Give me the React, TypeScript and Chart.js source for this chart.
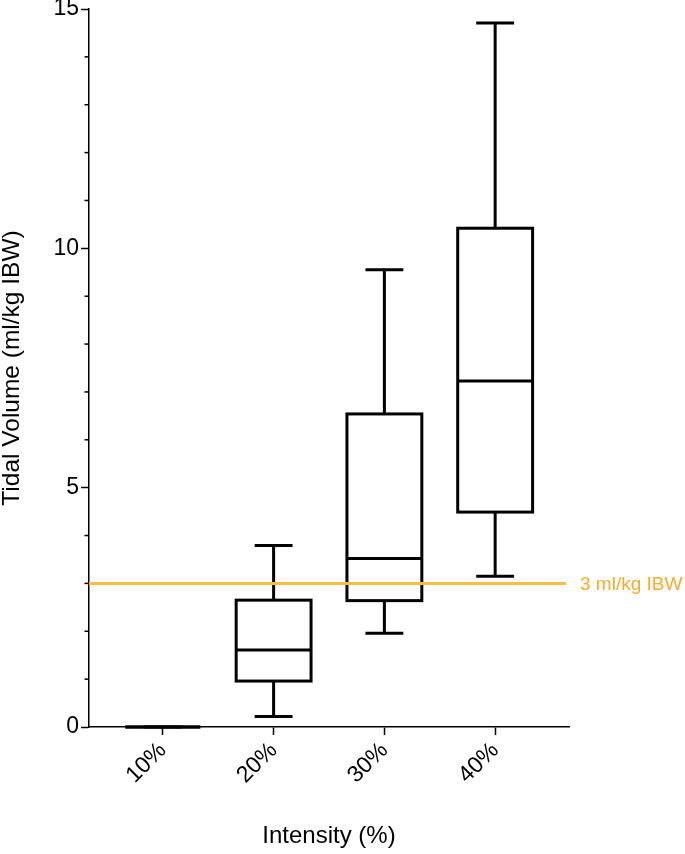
import React, { useEffect, useRef } from 'react';
import { Chart, registerables } from 'chart.js';

Chart.register(...registerables);

const categories = ['10%', '20%', '30%', '40%'];
const whiskerMin = [0, 0.22, 1.96, 3.15];
const quartile1 = [0, 0.96, 2.64, 4.49];
const medians = [0, 1.61, 3.52, 7.23];
const quartile3 = [0, 2.65, 6.54, 10.42];
const whiskerMax = [0, 3.79, 9.55, 14.71];
const yMajorTicks = [0, 5, 10, 15];
const yMinorTicks = [1, 2, 3, 4, 6, 7, 8, 9, 11, 12, 13, 14];
const thresholdValue = 3;
const thresholdLabel = '3 ml/kg IBW';
const xTitle = 'Intensity (%)';
const yTitle = 'Tidal Volume (ml/kg IBW)';

const FONT = "'Liberation Sans', Arial, sans-serif";
const BOX_HALF = 0.338;
const CAP_HALF = 0.171;
const LINE_COLOR = '#F9BC45';
const LABEL_COLOR = '#F6AC30';

const boxPlotPlugin = {
  id: 'boxPlot',
  afterDatasetsDraw(chart: any) {
    const { ctx, chartArea } = chart;
    const xs = chart.scales.x;
    const ys = chart.scales.y;
    ctx.save();
    // minor y ticks
    ctx.strokeStyle = '#000';
    ctx.lineWidth = 1.5;
    yMinorTicks.forEach((v) => {
      const py = ys.getPixelForValue(v);
      ctx.beginPath();
      ctx.moveTo(chartArea.left - 4.5, py);
      ctx.lineTo(chartArea.left, py);
      ctx.stroke();
    });
    // boxes
    ctx.lineWidth = 3;
    ctx.lineCap = 'butt';
    ctx.lineJoin = 'miter';
    categories.forEach((_, i) => {
      const cx = xs.getPixelForValue(i + 1);
      const half = xs.getPixelForValue(i + 1 + BOX_HALF) - cx;
      const cap = xs.getPixelForValue(i + 1 + CAP_HALF) - cx;
      const yMin = ys.getPixelForValue(whiskerMin[i]);
      const yQ1 = ys.getPixelForValue(quartile1[i]);
      const yMed = ys.getPixelForValue(medians[i]);
      const yQ3 = ys.getPixelForValue(quartile3[i]);
      const yMax = ys.getPixelForValue(whiskerMax[i]);
      ctx.beginPath();
      ctx.moveTo(cx, yQ3);
      ctx.lineTo(cx, yMax);
      ctx.moveTo(cx - cap, yMax);
      ctx.lineTo(cx + cap, yMax);
      ctx.moveTo(cx, yQ1);
      ctx.lineTo(cx, yMin);
      ctx.moveTo(cx - cap, yMin);
      ctx.lineTo(cx + cap, yMin);
      ctx.stroke();
      ctx.strokeRect(cx - half, yQ3, half * 2, yQ1 - yQ3);
      ctx.beginPath();
      ctx.moveTo(cx - half, yMed);
      ctx.lineTo(cx + half, yMed);
      ctx.stroke();
    });
    // threshold line
    const ty = ys.getPixelForValue(thresholdValue);
    ctx.strokeStyle = LINE_COLOR;
    ctx.lineWidth = 3;
    ctx.beginPath();
    ctx.moveTo(chartArea.left, ty);
    ctx.lineTo(chartArea.right - 3, ty);
    ctx.stroke();
    ctx.fillStyle = LABEL_COLOR;
    ctx.font = `19px ${FONT}`;
    ctx.textAlign = 'left';
    ctx.textBaseline = 'middle';
    ctx.fillText(thresholdLabel, chartArea.right + 11, ty + 1);
    ctx.restore();
  },
};

export default function App() {
  const canvasRef = useRef<HTMLCanvasElement | null>(null);

  useEffect(() => {
    if (!canvasRef.current) return;
    const chart = new Chart(canvasRef.current, {
      type: 'scatter',
      data: {
        datasets: [
          {
            label: 'Median',
            data: medians.map((m, i) => ({ x: i + 1, y: m })),
            pointRadius: 0,
            pointHoverRadius: 0,
            showLine: false,
          },
        ],
      },
      options: {
        responsive: false,
        animation: false,
        devicePixelRatio: 1,
        layout: { padding: { top: 9, right: 116, left: 0, bottom: 0 } },
        plugins: {
          legend: { display: false },
          tooltip: { enabled: false },
        },
        scales: {
          x: {
            type: 'linear',
            min: 1 / 3,
            max: 4 + 2 / 3,
            afterBuildTicks: (scale: any) => {
              scale.ticks = categories.map((_, i) => ({ value: i + 1 }));
            },
            afterFit: (scale: any) => {
              scale.height = 127;
              scale.paddingLeft = 0;
              scale.paddingRight = 0;
              scale.paddingTop = 0;
              scale.paddingBottom = 0;
            },
            ticks: {
              autoSkip: false,
              minRotation: 45,
              maxRotation: 45,
              padding: 2,
              color: '#000',
              font: { family: FONT, size: 23 },
              callback: (value: any) => categories[Math.round(Number(value)) - 1] ?? '',
            },
            grid: {
              display: true,
              drawOnChartArea: false,
              drawTicks: true,
              tickLength: 8,
              tickColor: '#000',
              tickWidth: 1.5,
            },
            border: { display: true, color: '#000', width: 1.5 },
            title: {
              display: true,
              text: xTitle,
              color: '#000',
              font: { family: FONT, size: 24, lineHeight: 1.2 },
              padding: { top: 0, bottom: 3 },
            },
          },
          y: {
            type: 'linear',
            min: 0,
            max: 15,
            afterBuildTicks: (scale: any) => {
              scale.ticks = yMajorTicks.map((v) => ({ value: v }));
            },
            afterFit: (scale: any) => {
              scale.width = 89;
              scale.paddingTop = 0;
              scale.paddingBottom = 0;
              scale.paddingLeft = 0;
              scale.paddingRight = 0;
            },
            ticks: {
              padding: 2,
              color: '#000',
              font: { family: FONT, size: 23 },
            },
            grid: {
              display: true,
              drawOnChartArea: false,
              drawTicks: true,
              tickLength: 8,
              tickColor: '#000',
              tickWidth: 1.5,
            },
            border: { display: true, color: '#000', width: 1.5 },
            title: {
              display: true,
              text: yTitle,
              color: '#000',
              font: { family: FONT, size: 24.5, lineHeight: 1.0 },
              padding: { top: 0, bottom: 0 },
            },
          },
        },
      },
      plugins: [boxPlotPlugin],
    });
    return () => chart.destroy();
  }, []);

  return (
    <div style={{ position: 'absolute', left: 0, top: 0, width: 685, height: 854, background: '#fff' }}>
      <canvas ref={canvasRef} width={685} height={854} style={{ display: 'block', width: 685, height: 854 }} />
    </div>
  );
}
